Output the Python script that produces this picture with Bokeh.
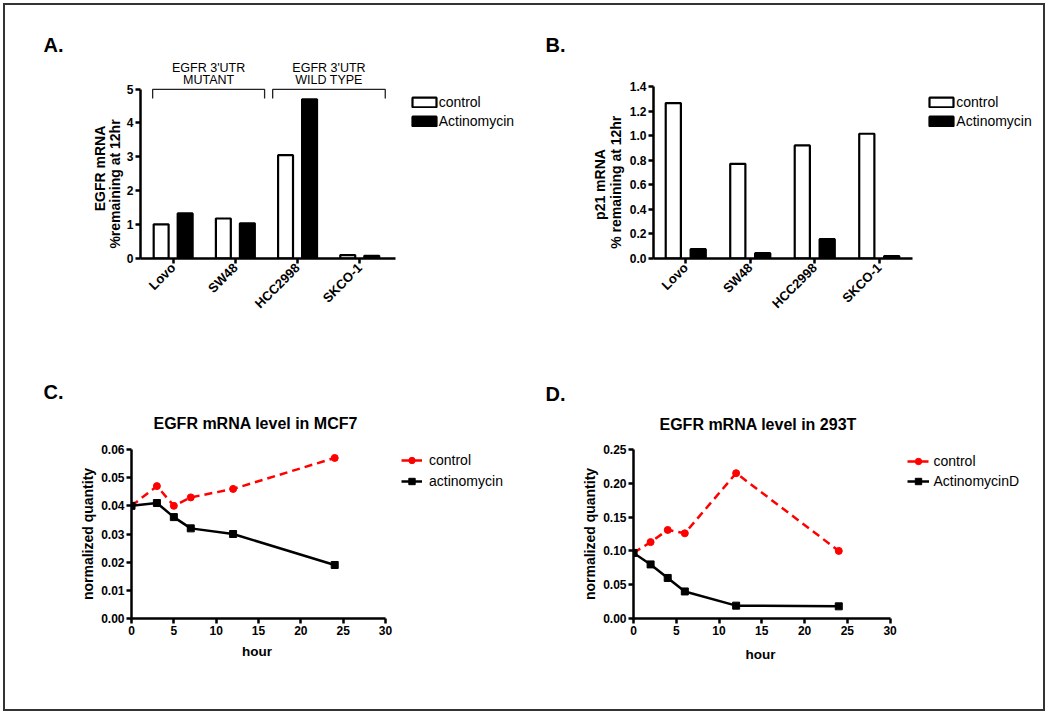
import numpy as np
from bokeh.plotting import figure
from bokeh.layouts import row, column
from bokeh.models import FixedTicker, Legend, LegendItem, NumeralTickFormatter, Range1d, Title
from bokeh.core.properties import value
from bokeh.embed import file_html
from bokeh.resources import INLINE

FONT = "Liberation Sans"

# ---------------- data ----------------
cells = ["Lovo", "SW48", "HCC2998", "SKCO-1"]
egfr_control = [1.01, 1.18, 3.05, 0.10]
egfr_actino = [1.33, 1.04, 4.70, 0.08]
p21_control = [1.265, 0.77, 0.92, 1.015]
p21_actino = [0.076, 0.043, 0.157, 0.020]

group_line1 = ["EGFR 3'UTR", "EGFR 3'UTR"]
group_line2 = ["MUTANT", "WILD TYPE"]
group_start = [-0.33, 1.60]
group_end = [1.47, 3.41]

mcf7_hours = [0, 3, 5, 7, 12, 24]
mcf7_control = [0.040, 0.047, 0.040, 0.043, 0.046, 0.057]
mcf7_actino = [0.040, 0.041, 0.036, 0.032, 0.030, 0.019]

t293_hours = [0, 2, 4, 6, 12, 24]
t293_control = [0.097, 0.113, 0.131, 0.126, 0.215, 0.100]
t293_actino = [0.097, 0.080, 0.060, 0.040, 0.019, 0.018]


# ---------------- helpers ----------------
def make_fig(origin, size, frame, x0, xppu, yppu):
    """frame = (left, top, right, bottom) in page pixels; x0 = data x at frame left."""
    ox, oy = origin
    w, h = size
    fl, ft, fr, fb = frame
    left, top = fl - ox, ft - oy
    right, bottom = w - (fr - ox), h - (fb - oy)
    xr = (x0, x0 + (fr - fl) / xppu)
    yr = (0, (fb - ft) / yppu * (1 + 1e-6))
    p = figure(width=w, height=h, x_range=Range1d(*xr), y_range=Range1d(*yr),
               output_backend="svg", toolbar_location=None, title=None,
               min_border_left=left, min_border_right=right,
               min_border_top=top, min_border_bottom=bottom)
    p.outline_line_color = None
    p.grid.grid_line_color = None
    p.background_fill_color = "white"
    p.border_fill_color = "white"
    for ax in p.axis:
        ax.axis_line_width = 2.5
        ax.axis_line_color = "black"
        ax.major_tick_line_width = 2.5
        ax.major_tick_line_color = "black"
        ax.major_tick_out = 5
        ax.major_tick_in = 0
        ax.minor_tick_line_color = None
        ax.major_label_text_font = FONT
        ax.major_label_text_font_style = "bold"
        ax.major_label_text_font_size = "12px"
        ax.major_label_text_color = "black"
        ax.major_label_standoff = 2
    p._frame = frame
    return p


def add_legend(p, items, px, py_top, pitch, glyph_w, glyph_h, standoff, item_h=16):
    fl, ft, fr, fb = p._frame
    bottom = py_top + len(items) * pitch
    leg = Legend(items=items, location=(px - fl, fb - bottom),
                 glyph_width=int(glyph_w), glyph_height=int(glyph_h), label_height=int(glyph_h),
                 spacing=int(round(pitch - item_h)), padding=0, margin=0,
                 label_standoff=int(standoff),
                 border_line_color=None, background_fill_alpha=0,
                 label_text_font=FONT, label_text_font_size="14px", label_text_color="black")
    p.add_layout(leg)


def add_title(p, text, left_px, size, standoff, where="above"):
    fl = p._frame[0]
    p.add_layout(Title(text=text, align="left", offset=left_px - fl, standoff=standoff,
                       text_font=FONT, text_font_style="bold", text_font_size=size,
                       text_color="black"), where)


def add_vtitle(p, text, center_py, em_len, size_px, standoff):
    """Vertical (left side) title whose centre lies at page y = center_py."""
    fl, ft, fr, fb = p._frame
    length = em_len * size_px
    offset = (fb - center_py) - length / 2
    p.add_layout(Title(text=text, align="left", offset=offset, standoff=standoff,
                       text_font=FONT, text_font_style="bold", text_font_size=f"{size_px}px",
                       text_color="black"), "left")


def add_ylabel_center(p, text, size, standoff):
    p.add_layout(Title(text=text, align="center", standoff=standoff,
                       text_font=FONT, text_font_style="bold", text_font_size=size,
                       text_color="black"), "left")


idx = np.arange(len(cells))
OFF = 0.193

# ---------------- Panel A ----------------
pA = make_fig((5, 5), (525, 365), (140, 56, 528, 258), -0.525, 62.2, 33.88)
rA1 = pA.vbar(x=idx - OFF, top=egfr_control, width=0.24, fill_color="white",
              line_color="black", line_width=2.2)
rA2 = pA.vbar(x=idx + OFF, top=egfr_actino, width=0.24, fill_color="black",
              line_color="black", line_width=2.2)
pA.xaxis.bounds = (-0.525, 3.575)
pA.yaxis.bounds = (0, 5)
pA.yaxis.ticker = FixedTicker(ticks=[0, 1, 2, 3, 4, 5])
pA.xaxis.ticker = FixedTicker(ticks=list(idx))
pA.xaxis.major_label_overrides = {int(i): c for i, c in zip(idx, cells)}
pA.xaxis.major_label_orientation = np.pi / 4
pA.xaxis.major_label_text_font_size = "13px"
add_vtitle(pA, "%remaining at 12hr", 183.5, 9.225, 14, 1.4)
add_vtitle(pA, "EGFR mRNA", 168, 6.111, 14, -6.8)
for s, e in zip(group_start, group_end):
    pA.line(x=[s, s, e, e], y=[4.72, 4.99, 4.99, 4.72], line_color="#222222", line_width=1.3)
mid = [(s + e) / 2 for s, e in zip(group_start, group_end)]
pA.text(x=mid, y=[5.63, 5.63], text=group_line1,
        text_font=value(FONT), text_font_size="12.5px", text_align="center", text_baseline="middle",
        text_color="black")
pA.text(x=mid, y=[5.27, 5.27], text=group_line2,
        text_font=value(FONT), text_font_size="12.5px", text_align="center", text_baseline="middle",
        text_color="black")
add_legend(pA, [LegendItem(label="control", renderers=[rA1]),
                LegendItem(label="Actinomycin", renderers=[rA2])],
           408.7, 91, 19, 30, 12, 0)
add_title(pA, "A.", 43, "20px", 1.5)

# ---------------- Panel B ----------------
pB = make_fig((530, 5), (513, 365), (653, 56, 1041, 258), -0.5, 64.5, 122.9)
rB1 = pB.vbar(x=idx - OFF, top=p21_control, width=0.235, fill_color="white",
              line_color="black", line_width=2.2)
rB2 = pB.vbar(x=idx + OFF, top=p21_actino, width=0.235, fill_color="black",
              line_color="black", line_width=2.2)
pB.xaxis.bounds = (-0.5, 3.52)
pB.yaxis.bounds = (0, 1.4)
pB.yaxis.ticker = FixedTicker(ticks=[0, 0.2, 0.4, 0.6, 0.8, 1.0, 1.2, 1.4])
pB.yaxis.formatter = NumeralTickFormatter(format="0.0")
pB.xaxis.ticker = FixedTicker(ticks=list(idx))
pB.xaxis.major_label_overrides = {int(i): c for i, c in zip(idx, cells)}
pB.xaxis.major_label_orientation = np.pi / 4
pB.xaxis.major_label_text_font_size = "13px"
add_vtitle(pB, "% remaining at 12hr", 181.7, 9.503, 14, 6)
add_vtitle(pB, "p21 mRNA", 184, 5.056, 14, -11.4)
add_legend(pB, [LegendItem(label="control", renderers=[rB1]),
                LegendItem(label="Actinomycin", renderers=[rB2])],
           926.3, 91, 19, 30, 12, 0)
add_title(pB, "B.", 545, "20px", 2)


# ---------------- Panels C / D ----------------
def line_panel(origin, size, frame, xppu, yppu, yticks, hours, ctrl, act, title, title_left,
               title_standoff, letter, letter_left, letter_standoff, hour_left, hour_standoff,
               act_label, leg_x, leg_top, pitch, glyph_w, standoff):
    p = make_fig(origin, size, frame, 0, xppu, yppu)
    l1 = p.line(hours, ctrl, line_color="red", line_width=2.5, line_dash="8 5")
    s1 = p.scatter(hours, ctrl, marker="circle", size=7, color="red")
    l2 = p.line(hours, act, line_color="black", line_width=2.5)
    s2 = p.scatter(hours, act, marker="square", size=7, color="black")
    p.xaxis.bounds = (0, 30)
    p.xaxis.ticker = FixedTicker(ticks=[0, 5, 10, 15, 20, 25, 30])
    p.yaxis.ticker = FixedTicker(ticks=yticks)
    p.yaxis.formatter = NumeralTickFormatter(format="0.00")
    add_ylabel_center(p, "normalized quantity", "14px", 5)
    add_title(p, "hour", hour_left, "13.5px", hour_standoff, "below")
    add_title(p, title, title_left, "16px", title_standoff)
    add_title(p, letter, letter_left, "20px", letter_standoff)
    add_legend(p, [LegendItem(label="control", renderers=[l1, s1]),
                   LegendItem(label=act_label, renderers=[l2, s2])],
               leg_x, leg_top, pitch, glyph_w, 16, standoff)
    return p


pC = line_panel((5, 370), (525, 339), (131, 449, 528, 618), 8.467, 169 / 0.06,
                [0, 0.01, 0.02, 0.03, 0.04, 0.05, 0.06],
                mcf7_hours, mcf7_control, mcf7_actino, "EGFR mRNA level in MCF7", 153, 35.4,
                "C.", 43, -15.8, 241.5, 8,
                "actinomycin", 401, 446.5, 21, 21, 7)

pD = line_panel((530, 370), (513, 339), (633, 449, 1041, 618), 8.553, 169 / 0.25,
                [0, 0.05, 0.10, 0.15, 0.20, 0.25],
                t293_hours, t293_control, t293_actino, "EGFR mRNA level in 293T", 659, 33.4,
                "D.", 545, -14, 745, 15,
                "ActinomycinD", 906.5, 448.5, 20, 22, 5)

layout = column(row(pA, pB), row(pC, pD), margin=(3, 0, 0, 3),
                styles={"border": "2px solid #333333", "background-color": "white"})

open("out.html", "w").write(file_html(layout, INLINE))
